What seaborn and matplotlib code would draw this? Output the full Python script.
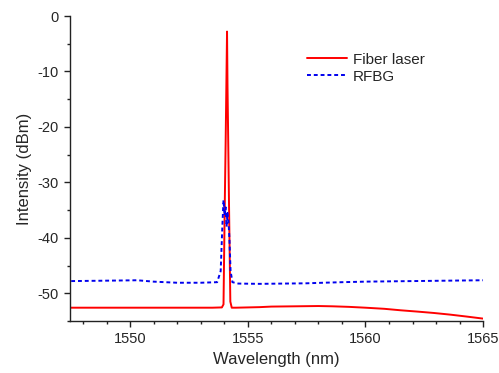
import numpy as np
import matplotlib
matplotlib.use("Agg")
import matplotlib.pyplot as plt
import seaborn as sns
from matplotlib.ticker import MultipleLocator

# Fiber laser output spectrum
wl_laser = [1547.5, 1548.5, 1549.5, 1550.5, 1551.5, 1552.5, 1553.5, 1553.9,
            1553.97, 1554.02, 1554.06, 1554.09, 1554.12, 1554.14, 1554.17,
            1554.21, 1554.26, 1554.32, 1554.5, 1555.0, 1555.5, 1556.0, 1557.0,
            1558.0, 1558.6, 1559.3, 1560.0, 1560.8, 1561.5, 1562.2, 1562.9,
            1563.6, 1564.3, 1565.0]
int_laser = [-52.6, -52.6, -52.6, -52.6, -52.6, -52.6, -52.6, -52.55,
             -52.0, -35.0, -23.0, -13.0, -2.8, -12.6, -22.5,
             -36.0, -51.5, -52.6, -52.6, -52.55, -52.5, -52.4, -52.35,
             -52.3, -52.35, -52.45, -52.6, -52.8, -53.07, -53.3, -53.55,
             -53.85, -54.2, -54.57]

# RFBG reflection spectrum
wl_rfbg = [1547.5, 1548.5, 1549.5, 1550.3, 1551.0, 1552.0, 1553.0, 1553.7,
           1553.85, 1553.92, 1553.97, 1554.02, 1554.06, 1554.1, 1554.14,
           1554.18, 1554.22, 1554.27, 1554.35, 1554.6, 1555.5, 1556.5,
           1557.5, 1558.2, 1559.0, 1560.0, 1561.0, 1562.0, 1563.0, 1564.0,
           1565.0]
int_rfbg = [-47.8, -47.75, -47.7, -47.65, -47.9, -48.1, -48.1, -48.0,
            -46.0, -38.0, -33.2, -36.0, -34.5, -38.0, -35.5,
            -37.0, -40.0, -46.0, -48.0, -48.25, -48.3, -48.25,
            -48.2, -48.1, -48.0, -47.9, -47.85, -47.8, -47.75, -47.7,
            -47.65]

sns.set_style("ticks")
plt.rcParams['font.family'] = ['Liberation Sans', 'DejaVu Sans']
plt.rcParams['axes.unicode_minus'] = False

fig = plt.figure(figsize=(4.99, 3.73), dpi=100)
ax = fig.add_axes([0.1403, 0.1394, 0.828, 0.8176])

sns.lineplot(x=wl_laser, y=int_laser, ax=ax, color='#ff0000', lw=1.4,
             estimator=None, sort=False, label='Fiber laser')
sns.lineplot(x=wl_rfbg, y=int_rfbg, ax=ax, color='#0000ee', lw=1.4,
             estimator=None, sort=False, label='RFBG', linestyle=(0, (2, 1.5)))

ax.set_xlim(1547.45, 1565)
ax.set_ylim(-55, 0)
ax.xaxis.set_major_locator(MultipleLocator(5))
ax.xaxis.set_minor_locator(MultipleLocator(1))
ax.yaxis.set_major_locator(MultipleLocator(10))
ax.yaxis.set_minor_locator(MultipleLocator(5))
ax.tick_params(which='major', length=4.5, width=1, labelsize=10.5, color='#222222')
ax.tick_params(which='minor', length=2.5, width=1, color='#222222')
for s in ['left', 'bottom']:
    ax.spines[s].set_color('#222222')
    ax.spines[s].set_linewidth(1)
sns.despine(ax=ax)

ax.set_xlabel('Wavelength (nm)', fontsize=12)
ax.set_ylabel('Intensity (dBm)', fontsize=12)

ax.legend(loc='upper left', bbox_to_anchor=(0.54, 0.925), frameon=False,
          fontsize=11, handlelength=2.6, handletextpad=0.4, labelspacing=0.2)

fig.savefig('out.png', dpi=100)
